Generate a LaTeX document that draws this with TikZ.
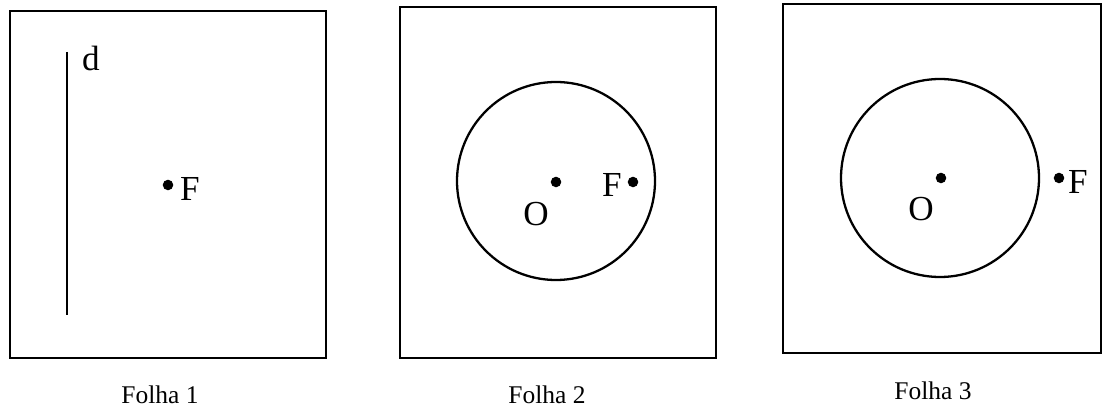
\documentclass[tikz,border=0pt]{standalone}
\usepackage{fontspec}
\setmainfont{Liberation Serif}
\begin{document}
\begin{tikzpicture}[x=0.02cm,y=-0.02cm,
  sheet/.style={draw, line width=1.3pt},
  ring/.style={draw, line width=1.3pt},
  dotpt/.style={circle, fill, inner sep=0pt, minimum size=6pt},
  lbl/.style={inner sep=0pt, font=\fontsize{20}{20}\selectfont},
  captxt/.style={inner sep=0pt, font=\fontsize{14.5}{14.5}\selectfont}]
\useasboundingbox (0,0) rectangle (1109,408);
% Folha 1
\draw[sheet] (10,11) rectangle (326,358);
\coordinate (dtop) at (67,52);
\coordinate (dbot) at (67,315);
\draw[line width=1.6pt] (dtop) -- (dbot);
\node[lbl] (dl) at (91,58) {d};
\node[dotpt] (F1) at (168,185) {};
\node[lbl] (F1l) at (190,189) {F};
\node[captxt] (c1) at (160,395) {Folha 1};
% Folha 2
\draw[sheet] (400,7) rectangle (716,358);
\node[ring, circle, minimum size=198*0.02cm, inner sep=0pt] (C2) at (556,181) {};
\node[dotpt] (O2) at (556,182) {};
\node[lbl] (O2l) at (536,214) {O};
\node[dotpt] (F2) at (633,182) {};
\node[lbl] (F2l) at (612,185) {F};
\node[captxt] (c2) at (547,395) {Folha 2};
% Folha 3
\draw[sheet] (783,4) rectangle (1101,353);
\node[ring, circle, minimum size=198*0.02cm, inner sep=0pt] (C3) at (940,178) {};
\node[dotpt] (O3) at (941,178) {};
\node[lbl] (O3l) at (921,209) {O};
\node[dotpt] (F3) at (1059,178) {};
\node[lbl] (F3l) at (1078,182) {F};
\node[captxt] (c3) at (933,391) {Folha 3};
\end{tikzpicture}
\end{document}
